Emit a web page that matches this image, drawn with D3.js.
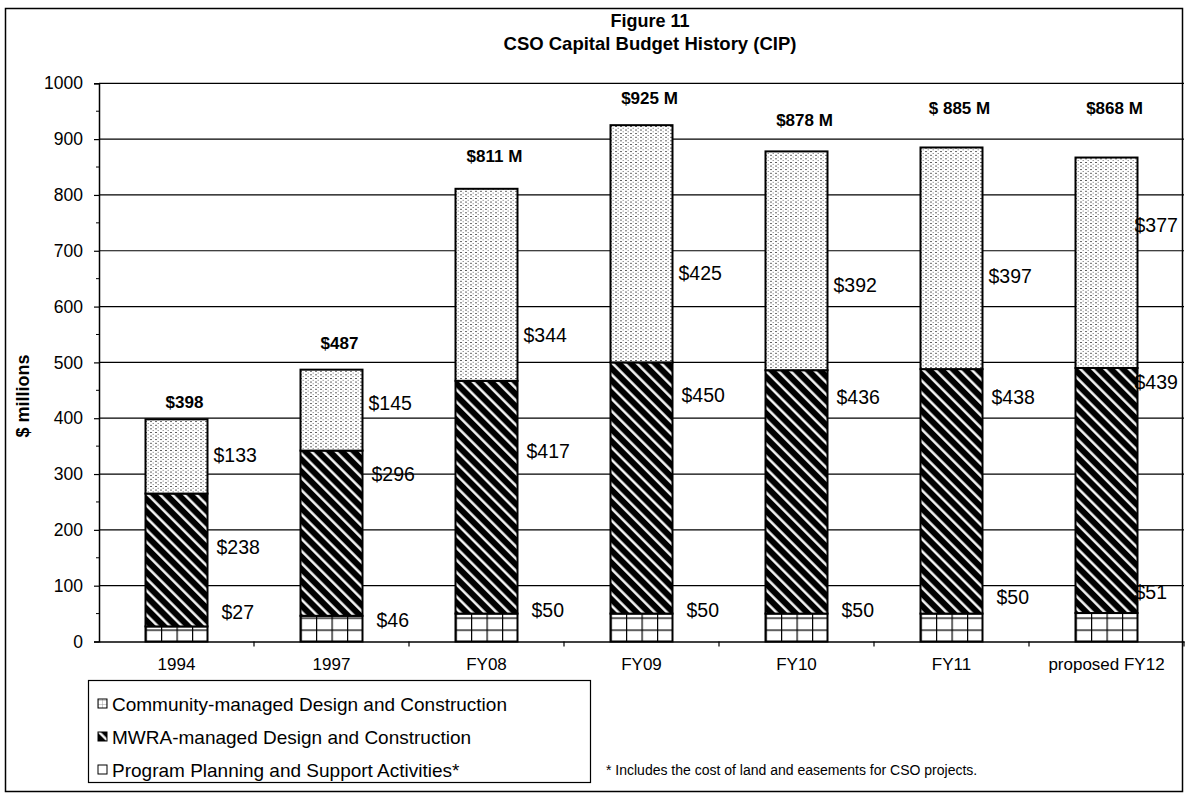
<!DOCTYPE html>
<html>
<head>
<meta charset="utf-8">
<script src="https://cdn.jsdelivr.net/npm/d3@7"></script>
<style>
  body { margin: 0; background: #fff; }
  text { font-family: Arial, "Liberation Sans", sans-serif; fill: #000; }
</style>
</head>
<body>
<svg id="chart" width="1188" height="798"></svg>
<script>
// CSO Capital Budget History (CIP), $ millions

const categories = ["1994", "1997", "FY08", "FY09", "FY10", "FY11", "proposed FY12"]
const planning  = [27, 46, 50, 50, 50, 50, 51]       // bottom, grid
const mwra      = [238, 296, 417, 450, 436, 438, 439] // middle, hatch
const community = [133, 145, 344, 425, 392, 397, 377] // top, stipple
const totalLabels = ["$398", "$487", "$811 M", "$925 M", "$878 M", "$ 885 M", "$868 M"]
const yTicks = d3.range(0, 1001, 100)

// where the hand-placed value labels sit, in $ millions
const planningLabelAt  = [53, 39, 57, 57, 57, 80, 89]
const mwraLabelAt      = [169, 300, 341, 441, 438, 438, 465]
const communityLabelAt = [334, 427, 549, 660, 639, 655, 746]
const totalLabelAt     = [429, 535, 870, 974, 935, 956, 956]

const legendItems = [
  { name: "Community-managed Design and Construction", key: "community" },
  { name: "MWRA-managed Design and Construction", key: "mwra" },
  { name: "Program Planning and Support Activities*", key: "planning" }
]

const rows = categories.map((c, i) => ({
  cat: c, planning: planning[i], mwra: mwra[i], community: community[i]
}))
const keys = ["planning", "mwra", "community"]
const series = d3.stack().keys(keys)(rows)

const svg = d3.select("#chart")
const plotL = 99, plotR = 1184, plotT = 83.3, plotB = 641.5
const FONT = "Arial, 'Liberation Sans', sans-serif"

var x = d3.scaleBand().domain(categories).range([plotL, plotR]).padding(0)
var y = d3.scaleLinear().domain([0, 1000]).range([plotB, plotT])
const barW = x.bandwidth() * 0.4
const barX = (c) => x(c) + (x.bandwidth() - barW) / 2

// ---- patterns
const defs = svg.append("defs")

const hatch = defs.append("pattern").attr("id", "hatch")
  .attr("patternUnits", "userSpaceOnUse")
  .attr("width", 8.6).attr("height", 8.6)
  .attr("patternTransform", "rotate(-45)")
hatch.append("rect").attr("width", 8.6).attr("height", 8.6).attr("fill", "#000")
hatch.append("rect").attr("x", 3).attr("width", 2.4).attr("height", 8.6).attr("fill", "#fff")

const stip = defs.append("pattern").attr("id", "stipple")
  .attr("patternUnits", "userSpaceOnUse")
  .attr("width", 5).attr("height", 3.6)
stip.append("rect").attr("width", 5).attr("height", 3.6).attr("fill", "#fff")
stip.append("rect").attr("x", 0).attr("y", 0).attr("width", 2).attr("height", 0.9).attr("fill", "#555")
stip.append("rect").attr("x", 2.6).attr("y", 1.8).attr("width", 1.2).attr("height", 0.9).attr("fill", "#777")

// one grid pattern per bar so the cells line up with the bar edges
categories.forEach((c, i) => {
  const p = defs.append("pattern").attr("id", "grid" + i)
    .attr("patternUnits", "userSpaceOnUse")
    .attr("x", barX(c)).attr("y", y(0))
    .attr("width", barW / 4).attr("height", 12)
  p.append("rect").attr("width", barW / 4).attr("height", 12).attr("fill", "#fff")
  p.append("path")
    .attr("d", `M0,0V12M0,0H${barW / 4}`)
    .attr("stroke", "#000").attr("stroke-width", 2.4).attr("fill", "none")
})
const gridIcon = defs.append("pattern").attr("id", "gridIcon")
  .attr("patternUnits", "userSpaceOnUse").attr("width", 4).attr("height", 4)
gridIcon.append("rect").attr("width", 4).attr("height", 4).attr("fill", "#fff")
gridIcon.append("path").attr("d", "M0,0V4M0,0H4").attr("stroke", "#888").attr("stroke-width", 0.8)

const fillFor = (key, i) => key === "planning" ? `url(#grid${i})`
  : key === "mwra" ? "url(#hatch)" : "url(#stipple)"

// ---- frame
svg.append("rect")
  .attr("x", 5.5).attr("y", 8.5).attr("width", 1177).attr("height", 783)
  .attr("fill", "none").attr("stroke", "#000").attr("stroke-width", 1.5)

// ---- title
svg.append("text").attr("x", 650).attr("y", 27)
  .attr("text-anchor", "middle").attr("font-weight", "bold").attr("font-size", 18)
  .text("Figure 11")
svg.append("text").attr("x", 650).attr("y", 50)
  .attr("text-anchor", "middle").attr("font-weight", "bold").attr("font-size", 18.5)
  .text("CSO Capital Budget History (CIP)")

// ---- gridlines
svg.append("g").selectAll("line")
  .data(yTicks.filter(d => d > 0))
  .join("line")
    .attr("x1", plotL).attr("x2", plotR)
    .attr("y1", d => y(d)).attr("y2", d => y(d))
    .attr("stroke", "#000").attr("stroke-width", 1.2)

// ---- y axis
const yAxis = svg.append("g")
  .attr("transform", `translate(${plotL},0)`)
  .call(d3.axisLeft(y).tickValues(yTicks).tickSize(5).tickPadding(11).tickFormat(d3.format("d")))
yAxis.select(".domain").attr("stroke-width", 1.5)
yAxis.selectAll(".tick line").attr("stroke-width", 1.2)
yAxis.selectAll("text").attr("font-size", 17.5).attr("font-family", FONT)
svg.append("g").selectAll("line")
  .data(d3.range(50, 1000, 100))
  .join("line")
    .attr("x1", plotL - 3).attr("x2", plotL)
    .attr("y1", d => y(d)).attr("y2", d => y(d))
    .attr("stroke", "#000")

svg.append("text")
  .attr("transform", `translate(29,${y(440)}) rotate(-90)`)
  .attr("text-anchor", "middle").attr("font-weight", "bold").attr("font-size", 18)
  .text("$ millions")

// ---- x axis
const xAxis = svg.append("g")
  .attr("transform", `translate(0,${plotB})`)
  .call(d3.axisBottom(x).tickSize(0).tickPadding(16))
xAxis.select(".domain").attr("stroke-width", 1.5)
xAxis.selectAll("text").attr("font-size", 17).attr("font-family", FONT)
svg.append("g").selectAll("line")
  .data(categories.slice(1).concat([null]))
  .join("line")
    .attr("x1", d => d ? x(d) : plotR).attr("x2", d => d ? x(d) : plotR)
    .attr("y1", plotB).attr("y2", plotB + 5)
    .attr("stroke", "#000").attr("stroke-width", 1.2)

// ---- bars
svg.append("g").selectAll("g")
  .data(series)
  .join("g")
  .selectAll("rect")
  .data(s => s.map((d, i) => ({ key: s.key, i: i, y0: d[0], y1: d[1] })))
  .join("rect")
    .attr("x", d => barX(categories[d.i]))
    .attr("width", barW)
    .attr("y", d => y(d.y1))
    .attr("height", d => y(d.y0) - y(d.y1))
    .attr("fill", d => fillFor(d.key, d.i))
    .attr("stroke", "#000").attr("stroke-width", 2)

// ---- value labels (the last bar's labels hug the bar, as in the original)
const valueLabels = [
  { vals: planning, at: planningLabelAt, dx: 14 },
  { vals: mwra, at: mwraLabelAt, dx: 9 },
  { vals: community, at: communityLabelAt, dx: 6 }
]
const last = categories.length - 1
valueLabels.forEach(s => {
  svg.append("g").selectAll("text")
    .data(s.vals)
    .join("text")
      .attr("x", (d, i) => barX(categories[i]) + barW + (i === last ? -3 : s.dx))
      .attr("y", (d, i) => y(s.at[i]))
      .attr("dy", "0.35em")
      .attr("font-size", 19.5)
      .text(d => "$" + d)
})

svg.append("g").selectAll("text")
  .data(totalLabels)
  .join("text")
    .attr("x", (d, i) => barX(categories[i]) + barW / 2 + 8)
    .attr("y", (d, i) => y(totalLabelAt[i]))
    .attr("dy", "0.35em")
    .attr("text-anchor", "middle")
    .attr("font-weight", "bold").attr("font-size", 17)
    .text(d => d)

// ---- legend
const lg = svg.append("g")
lg.append("rect")
  .attr("x", 88.5).attr("y", 680.5).attr("width", 502).attr("height", 102)
  .attr("fill", "#fff").attr("stroke", "#000").attr("stroke-width", 1.2)
const li = lg.selectAll("g.item")
  .data(legendItems)
  .join("g").attr("class", "item")
  .attr("transform", (d, i) => `translate(98,${704 + i * 33})`)
li.append("rect")
  .attr("x", 0).attr("y", -5).attr("width", 9).attr("height", 9)
  .attr("fill", d => d.key === "planning" ? "#fff" : d.key === "mwra" ? "url(#hatch)" : "url(#gridIcon)")
  .attr("stroke", "#000").attr("stroke-width", 1)
li.append("text")
  .attr("x", 14).attr("dy", "0.35em")
  .attr("font-size", 19)
  .text(d => d.name)

svg.append("text")
  .attr("x", 606).attr("y", 770)
  .attr("dy", "0.35em")
  .attr("font-size", 14)
  .text("* Includes the cost of land and easements for CSO projects.")
</script>
</body>
</html>
